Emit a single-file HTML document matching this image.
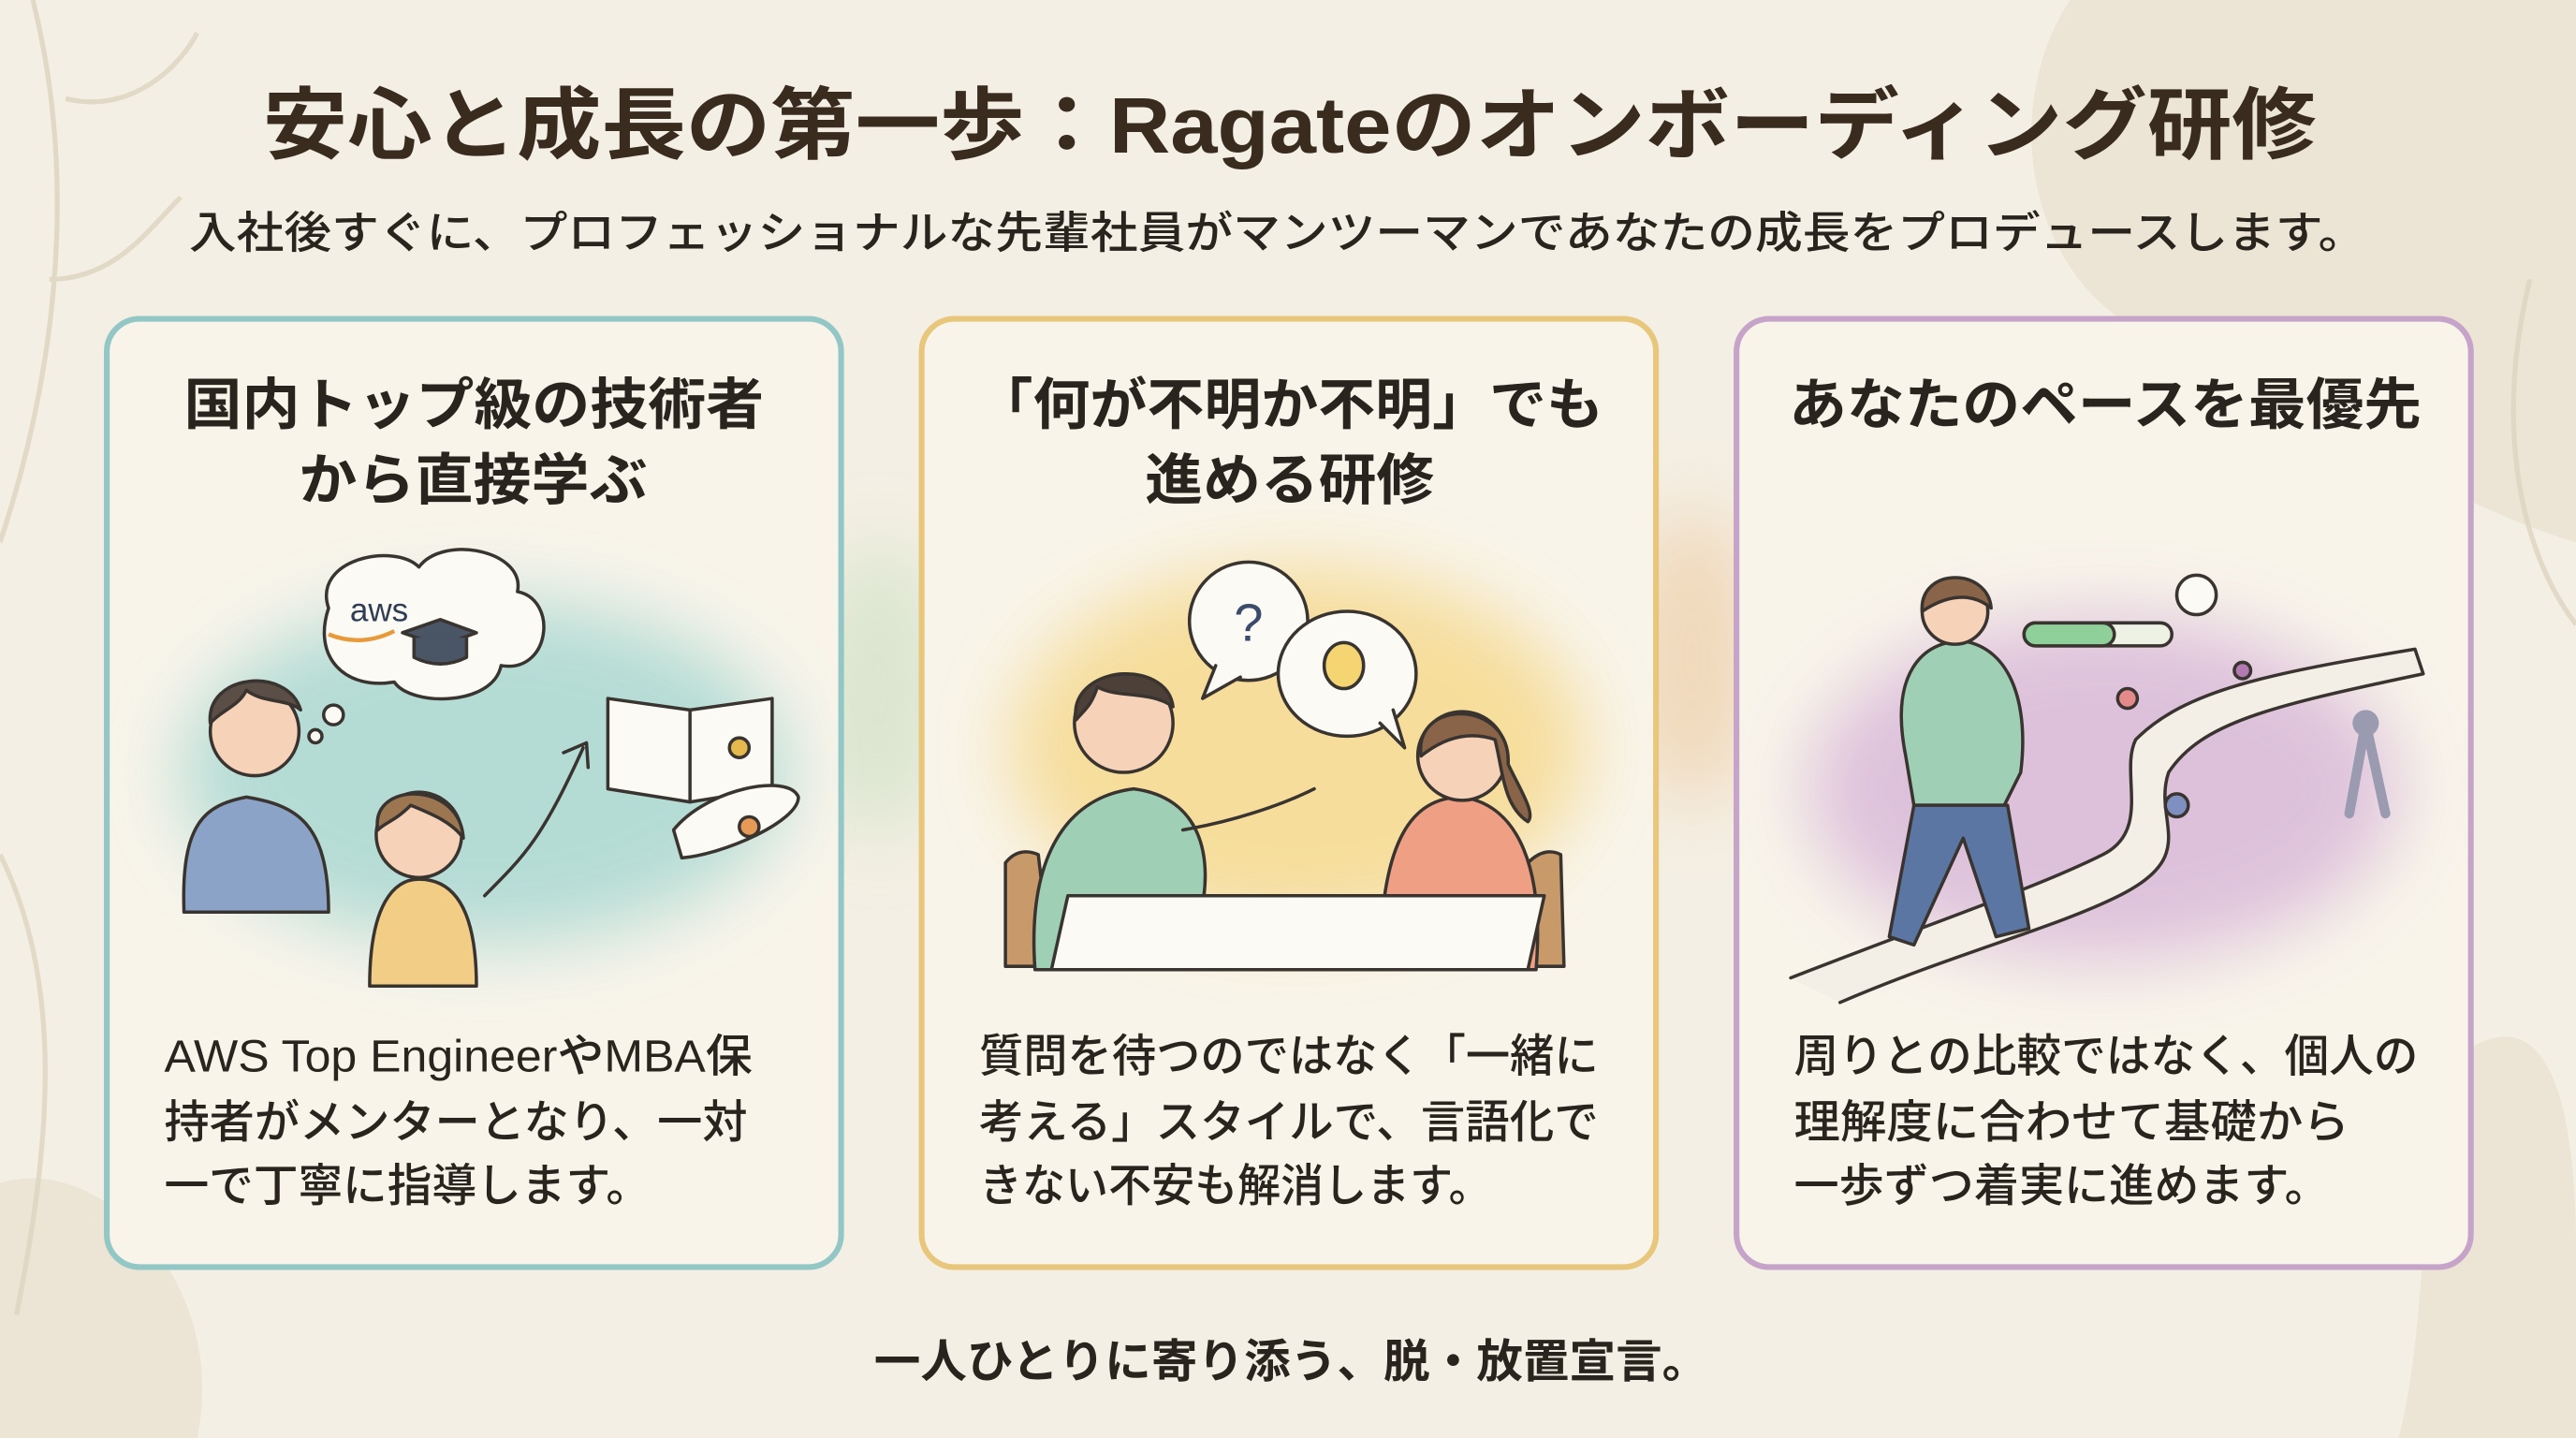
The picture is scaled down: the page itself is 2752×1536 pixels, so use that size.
<!DOCTYPE html>
<html><head><meta charset="utf-8"><style>
html,body{margin:0;padding:0;background:#f4efe4;}
svg{display:block;}
text{font-family:"Liberation Sans","Noto Sans CJK JP",sans-serif;}
</style></head><body>
<svg width="2752" height="1536" viewBox="0 0 1568 875" preserveAspectRatio="none" xmlns="http://www.w3.org/2000/svg">
<defs>
<filter id="b" x="-50%" y="-50%" width="200%" height="200%"><feGaussianBlur stdDeviation="22"/></filter>
</defs>
<rect width="1568" height="875" fill="#f4efe4"/>
<path d="M1260 0 L1568 0 L1568 330 C1500 310 1420 260 1300 200 C1230 160 1220 60 1260 0Z" fill="#ece4d4"/>
<path d="M0 720 C60 700 140 780 120 875 L0 875Z" fill="#ece4d4"/>
<path d="M1500 640 C1560 600 1568 700 1568 760 L1568 875 L1460 875 C1480 800 1470 690 1500 640Z" fill="#ece4d4"/>
<g stroke="#ddd3bf" stroke-width="3" fill="none" opacity="0.8">
<path d="M20 0 C50 120 30 240 0 330"/><path d="M40 60 C80 70 110 40 120 20"/><path d="M30 170 C70 170 90 140 110 120"/>
<path d="M0 520 C40 600 30 700 10 800"/><path d="M1540 170 C1520 250 1530 330 1568 380"/>
</g>
<ellipse cx="535" cy="420" rx="40" ry="90" fill="#cfe2c6" filter="url(#b)" opacity="0.7"/>
<ellipse cx="1030" cy="400" rx="40" ry="90" fill="#efcfa8" filter="url(#b)" opacity="0.7"/>
<rect x="65" y="194" width="447" height="577" rx="20" fill="#f8f4ea" stroke="#93c7c6" stroke-width="3.5"/>
<rect x="561" y="194" width="447" height="577" rx="20" fill="#f8f4ea" stroke="#e8c77c" stroke-width="3.5"/>
<rect x="1057" y="194" width="447" height="577" rx="20" fill="#f8f4ea" stroke="#c6a4c9" stroke-width="3.5"/>
<ellipse cx="295" cy="470" rx="185" ry="105" fill="#a9d8d2" filter="url(#b)" opacity="0.85"/>
<ellipse cx="790" cy="455" rx="175" ry="110" fill="#f6d98e" filter="url(#b)" opacity="0.85"/>
<ellipse cx="1280" cy="480" rx="180" ry="105" fill="#d9b9d9" filter="url(#b)" opacity="0.85"/>

<g stroke="#3a3430" stroke-width="2" stroke-linecap="round" stroke-linejoin="round">
<path d="M200 370 C190 340 240 330 255 345 C270 325 320 335 315 360 C340 365 335 410 305 405 C300 430 250 430 240 415 C210 420 190 400 200 370Z" fill="#fbfaf5"/>
<circle cx="203" cy="435" r="6" fill="#fbfaf5"/><circle cx="192" cy="448" r="4" fill="#fbfaf5"/>
<path d="M245 385 L268 377 L290 385 L268 393Z" fill="#4a5566"/><path d="M252 388 V400 Q268 408 284 400 V388" fill="#4a5566"/>
<path d="M112 555 C110 500 125 490 150 485 C180 490 200 500 200 555Z" fill="#8ba3c7"/>
<circle cx="155" cy="445" r="27" fill="#f5d2b8"/>
<path d="M128 440 C125 410 175 405 183 432 C175 425 160 428 150 420 C145 430 135 432 128 440Z" fill="#5a4e46"/>
<path d="M225 600 C225 550 240 535 255 535 C280 535 290 560 290 600Z" fill="#f1cd86"/>
<circle cx="255" cy="508" r="26" fill="#f5d2b8"/>
<path d="M230 505 C225 475 280 475 282 510 C275 500 262 495 250 490 C240 500 235 500 230 505Z" fill="#9b7650"/>
<path d="M295 545 C320 520 330 510 355 455" fill="none"/><path d="M343 458 L357 452 L358 467" fill="none"/>
<path d="M370 425 L370 480 L420 488 L470 480 L470 425 L420 432Z" fill="#fbfaf5"/><path d="M420 432 V488"/>
<path d="M410 505 C430 480 480 470 486 485 C486 500 440 520 415 522Z" fill="#fbfaf5"/>
<circle cx="450" cy="455" r="6" fill="#e6b94f"/><circle cx="456" cy="503" r="6" fill="#e59a55"/>
</g>
<text x="213" y="378" font-size="20" fill="#2f3d55">aws</text>
<path d="M200 386 Q220 394 240 384" stroke="#e89a3a" stroke-width="2.5" fill="none"/>

<g stroke="#3a3430" stroke-width="2" stroke-linecap="round" stroke-linejoin="round">
<circle cx="760" cy="378" r="36" fill="#fbfaf5"/><path d="M740 405 L732 425 L755 412" fill="#fbfaf5"/>
<ellipse cx="820" cy="410" rx="42" ry="38" fill="#fbfaf5"/><path d="M840 440 L855 455 L848 432" fill="#fbfaf5"/>
<ellipse cx="818" cy="405" rx="12" ry="14" fill="#f4d572"/>
<path d="M612 588 L612 525 Q620 515 632 520 L640 588Z" fill="#c89a6a"/>
<path d="M930 588 L930 525 Q940 515 950 520 L952 588Z" fill="#c89a6a"/>
<path d="M630 590 C625 520 650 485 690 480 C730 485 740 520 730 560 L700 590Z" fill="#9fd0b6"/>
<path d="M720 505 C750 500 780 490 800 480" fill="none"/>
<circle cx="684" cy="440" r="30" fill="#f5d2b8"/>
<path d="M655 438 C650 405 710 400 714 430 C700 420 680 425 668 418 C664 430 660 432 655 438Z" fill="#4d4038"/>
<path d="M840 590 C840 510 860 485 890 485 C925 490 940 530 935 590Z" fill="#ee9f84"/>
<circle cx="890" cy="460" r="27" fill="#f5d2b8"/>
<path d="M865 460 C860 425 920 425 918 465 C925 480 935 495 930 500 C915 490 915 470 910 450 C895 445 880 448 865 460Z" fill="#8a6448"/>
<path d="M650 545 L940 545 L930 590 L640 590Z" fill="#fbfaf5"/>
</g>
<text x="760" y="390" font-size="32" text-anchor="middle" fill="#3b4b6a">?</text>

<g stroke="#3a3430" stroke-width="2" stroke-linecap="round" stroke-linejoin="round">
<path d="M1090 595 C1180 560 1240 540 1280 520 C1310 505 1290 470 1300 450 C1330 420 1380 410 1470 395 L1475 410 C1380 430 1340 440 1320 470 C1310 500 1340 520 1290 545 C1250 565 1190 580 1120 610" fill="#f3efe6"/>
<path d="M1160 460 C1150 410 1170 390 1195 390 C1225 395 1235 430 1230 470 L1220 490 L1165 490Z" fill="#9fd0b6"/>
<path d="M1165 490 L1150 570 L1165 575 L1195 510 L1215 570 L1235 565 L1222 490Z" fill="#5b76a3"/>
<circle cx="1190" cy="372" r="20" fill="#f5d2b8"/>
<path d="M1170 372 C1168 345 1210 345 1212 370 C1200 360 1185 362 1170 372Z" fill="#8a6448"/>
<rect x="1232" y="379" width="90" height="14" rx="7" fill="#eef2e4"/>
<rect x="1232" y="379" width="55" height="14" rx="7" fill="#8ecf9a"/>
<circle cx="1337" cy="362" r="12" fill="#fbfaf5"/>
<circle cx="1325" cy="490" r="7" fill="#7f8fbf"/><circle cx="1295" cy="425" r="6" fill="#e58a8a"/><circle cx="1365" cy="408" r="5" fill="#b27ab0"/>
<path d="M1440 440 L1430 495 M1440 440 L1452 495" stroke="#9a9ab0" stroke-width="6"/>
<circle cx="1440" cy="440" r="8" fill="#9a9ab0" stroke="none"/>
</g>

<text x="160" y="93" font-size="48" font-weight="bold" fill="#3a2b1f" textLength="1250" lengthAdjust="spacingAndGlyphs">安心と成長の第一歩：Ragateのオンボーディング研修</text>
<text x="115" y="151" font-size="27" font-weight="500" fill="#2a241e" textLength="1325" lengthAdjust="spacingAndGlyphs">入社後すぐに、プロフェッショナルな先輩社員がマンツーマンであなたの成長をプロデュースします。</text>
<g font-size="34" font-weight="bold" fill="#2a241e">
<text x="112" y="258" textLength="353" lengthAdjust="spacingAndGlyphs">国内トップ級の技術者</text>
<text x="182" y="304" textLength="212" lengthAdjust="spacingAndGlyphs">から直接学ぶ</text>
<text x="594" y="258" textLength="382" lengthAdjust="spacingAndGlyphs">「何が不明か不明」でも</text>
<text x="697" y="304" textLength="176" lengthAdjust="spacingAndGlyphs">進める研修</text>
<text x="1089" y="258" textLength="385" lengthAdjust="spacingAndGlyphs">あなたのペースを最優先</text>
</g>
<g font-size="27.5" font-weight="500" fill="#2a241e">
<text x="100" y="652" textLength="358" lengthAdjust="spacingAndGlyphs">AWS Top EngineerやMBA保</text>
<text x="100" y="692" textLength="355" lengthAdjust="spacingAndGlyphs">持者がメンターとなり、一対</text>
<text x="100" y="731" textLength="296" lengthAdjust="spacingAndGlyphs">一で丁寧に指導します。</text>
<text x="596" y="652" textLength="377" lengthAdjust="spacingAndGlyphs">質問を待つのではなく「一緒に</text>
<text x="596" y="692" textLength="377" lengthAdjust="spacingAndGlyphs">考える」スタイルで、言語化で</text>
<text x="596" y="731" textLength="312" lengthAdjust="spacingAndGlyphs">きない不安も解消します。</text>
<text x="1092" y="652" textLength="380" lengthAdjust="spacingAndGlyphs">周りとの比較ではなく、個人の</text>
<text x="1092" y="692" textLength="338" lengthAdjust="spacingAndGlyphs">理解度に合わせて基礎から</text>
<text x="1092" y="731" textLength="326" lengthAdjust="spacingAndGlyphs">一歩ずつ着実に進めます。</text>
</g>
<text x="532" y="838" font-size="28" font-weight="bold" fill="#2a241e" textLength="508" lengthAdjust="spacingAndGlyphs">一人ひとりに寄り添う、脱・放置宣言。</text>
</svg>
</body></html>
